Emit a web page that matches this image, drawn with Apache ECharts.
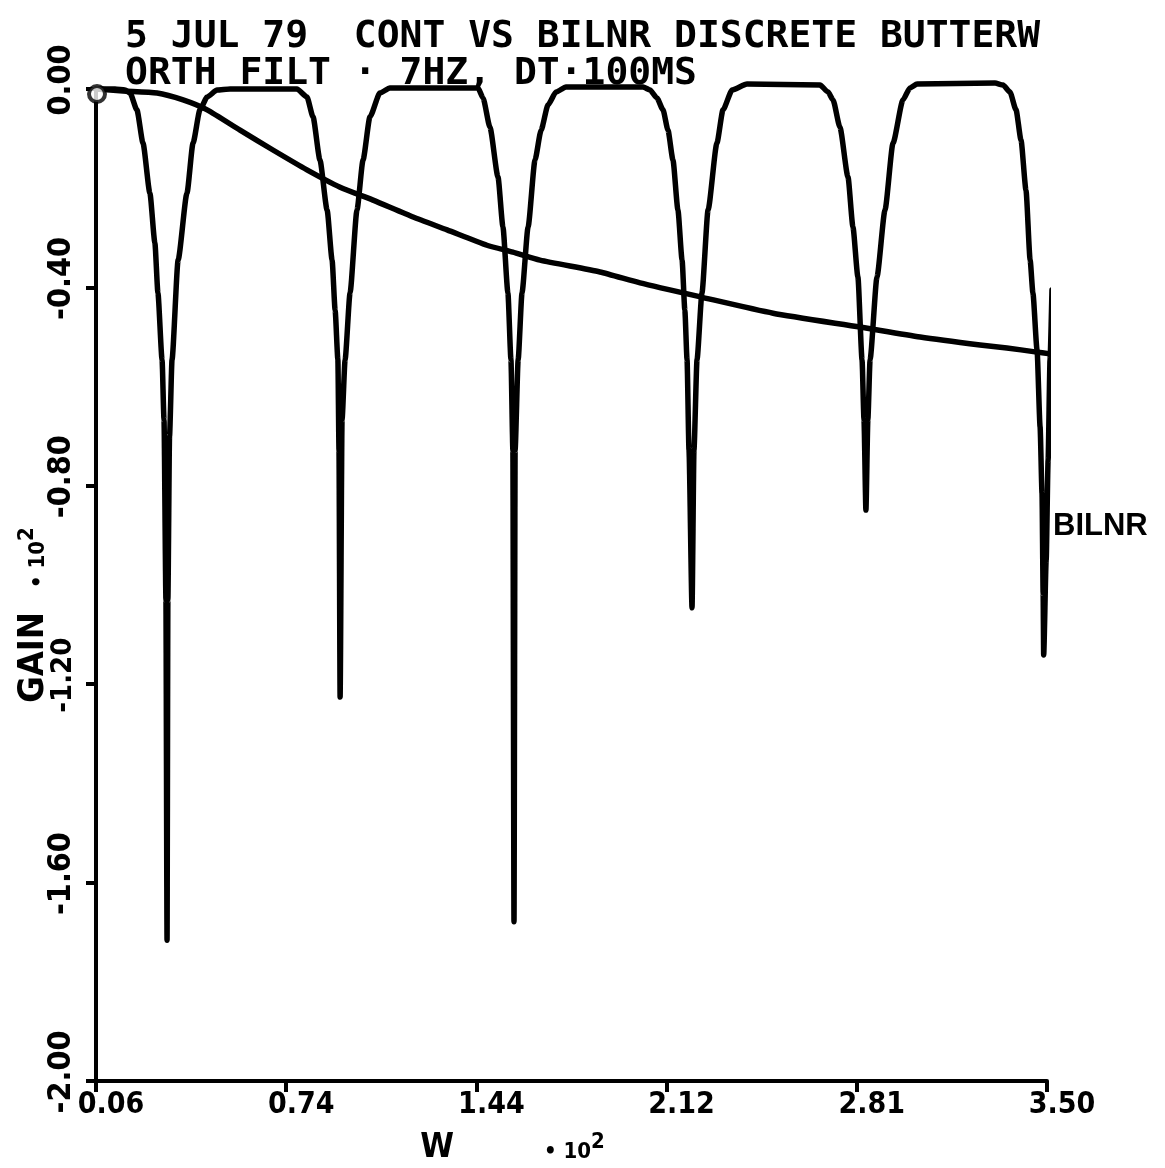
<!DOCTYPE html>
<html>
<head>
<meta charset="utf-8">
<title>CONT VS BILNR DISCRETE BUTTERWORTH FILT</title>
<script src="https://cdn.jsdelivr.net/npm/echarts@6/dist/echarts.min.js"></script>
<style>
  html, body { margin: 0; padding: 0; background: #ffffff; }
  #chart { width: 1165px; height: 1168px; }
</style>
</head>
<body>
<div id="chart"></div>
<script>
// Frequency W (x 10^2 rad/s) and gain (x 10^2) of the bilinear discrete filter
const bilnrW = [
  0.060, 0.129, 0.165, 0.183, 0.208, 0.230, 0.255, 0.273, 0.284, 0.299, 0.306, 0.313, 0.317, 0.320, 0.326,
  0.335, 0.357, 0.389, 0.411, 0.436, 0.462, 0.498, 0.545,
  0.787, 0.823, 0.845, 0.870, 0.896, 0.914, 0.925, 0.935, 0.939, 0.943, 0.950, 0.961, 0.979, 1.004, 1.026,
  1.051, 1.087, 1.123,
  1.442, 1.460, 1.485, 1.514, 1.532, 1.550, 1.561, 1.568, 1.572, 1.576, 1.587, 1.601, 1.623, 1.648, 1.670,
  1.695, 1.724, 1.760,
  2.039, 2.064, 2.089, 2.111, 2.129, 2.147, 2.165, 2.180, 2.190, 2.198, 2.205, 2.216, 2.223, 2.234, 2.252,
  2.274, 2.306, 2.328, 2.361, 2.415,
  2.679, 2.708, 2.726, 2.751, 2.780, 2.798, 2.816, 2.831, 2.838, 2.845, 2.852, 2.860, 2.885, 2.914, 2.943,
  2.979, 3.004, 3.030,
  3.312, 3.341, 3.366, 3.388, 3.406, 3.424, 3.439, 3.449, 3.464, 3.475, 3.482, 3.486, 3.488, 3.497, 3.504,
  3.511, 3.518
];
const bilnrG = [
  0.000, 0.000, -0.002, -0.008, -0.042, -0.109, -0.210, -0.310, -0.411, -0.546, -0.667, -1.030, -1.716, -1.030, -0.700,
  -0.546, -0.345, -0.210, -0.109, -0.042, -0.016, -0.002, 0.000,
  0.000, -0.016, -0.056, -0.143, -0.244, -0.345, -0.446, -0.546, -0.728, -1.226, -0.667, -0.546, -0.411, -0.244, -0.143,
  -0.056, -0.008, 0.002,
  0.002, -0.018, -0.077, -0.177, -0.278, -0.411, -0.546, -0.728, -1.679, -0.728, -0.546, -0.411, -0.278, -0.143, -0.083,
  -0.032, -0.006, 0.004,
  0.004, -0.002, -0.018, -0.042, -0.083, -0.143, -0.244, -0.345, -0.446, -0.546, -0.728, -1.046, -0.728, -0.546, -0.411,
  -0.244, -0.109, -0.042, -0.002, 0.010,
  0.008, -0.006, -0.022, -0.077, -0.177, -0.278, -0.379, -0.546, -0.667, -0.849, -0.667, -0.546, -0.379, -0.244, -0.109,
  -0.022, 0.002, 0.010,
  0.012, 0.008, -0.006, -0.042, -0.103, -0.204, -0.345, -0.411, -0.526, -0.681, -0.815, -1.016, -1.141, -0.950, -0.748,
  -0.546, -0.405
];

// Continuous Butterworth response
const contW = [
  0.060, 0.158, 0.281, 0.375, 0.462, 0.581, 0.700, 0.823, 0.943, 1.062, 1.207, 1.330, 1.474, 1.568, 1.666,
  1.883, 2.028, 2.245, 2.509, 2.824, 3.041, 3.258, 3.355, 3.457, 3.511
];
const contG = [
  0.000, -0.004, -0.008, -0.022, -0.042, -0.083, -0.123, -0.163, -0.198, -0.224, -0.258, -0.284, -0.315, -0.329, -0.345,
  -0.369, -0.391, -0.419, -0.452, -0.480, -0.500, -0.516, -0.522, -0.530, -0.534
];

// Axis ticks and their printed labels
const xTickValues = [0.06, 0.748, 1.436, 2.124, 2.812, 3.50];
const xTickLabels = ['0.06', '0.74', '1.44', '2.12', '2.81', '3.50'];
const yTickLabels = ['-2.00', '-1.60', '-1.20', '-0.80', '-0.40', '0.00'];

const titleLines = ['5 JUL 79  CONT VS BILNR DISCRETE BUTTERW', 'ORTH FILT \u00b7 7HZ, DT\u00b7100MS'];
const seriesLabel = 'BILNR';

const INK = '#000000';
const plotFont = "'DejaVu Sans Condensed', 'DejaVu Sans', sans-serif";
const monoFont = "'DejaVu Sans Mono', 'Liberation Mono', monospace";

const zip = (a, b) => a.map((v, i) => [v, b[i]]);

const chart = echarts.init(document.getElementById('chart'), null, { renderer: 'canvas' });

chart.setOption({
  backgroundColor: '#ffffff',
  animation: false,
  title: {
    text: titleLines.join('\n'),
    left: 120,
    top: 14,
    textStyle: {
      fontFamily: monoFont,
      fontWeight: 'bold',
      fontSize: 38,
      lineHeight: 37,
      color: INK
    }
  },
  grid: { left: 96, right: 118, top: 89, bottom: 87, containLabel: false, outerBoundsMode: 'none' },
  xAxis: {
    type: 'value',
    min: 0.06,
    max: 3.5,
    name: '{w|W}{e|\u2022 10}{s|2}',
    nameLocation: 'middle',
    nameGap: 50,
    nameMoveOverlap: false,
    nameTextStyle: {
      padding: [0, 118, 0, 0],
      rich: {
        w: { fontFamily: plotFont, fontWeight: 'bold', fontSize: 34, color: INK, padding: [0, 90, 0, 0] },
        e: { fontFamily: plotFont, fontWeight: 'bold', fontSize: 22, color: INK, padding: [8, 0, 0, 0] },
        s: { fontFamily: plotFont, fontWeight: 'bold', fontSize: 22, color: INK, verticalAlign: 'top', padding: [0, 0, 10, 0] }
      }
    },
    axisLine: { show: true, onZero: false, lineStyle: { color: INK, width: 4 } },
    axisTick: { show: true, inside: false, length: 11, customValues: xTickValues, lineStyle: { color: INK, width: 4 } },
    axisLabel: {
      customValues: xTickValues,
      margin: 9,
      padding: [0, 0, 0, 30],
      fontFamily: plotFont,
      fontWeight: 'bold',
      fontSize: 30,
      color: INK,
      formatter: (v) => {
        const i = xTickValues.findIndex(t => Math.abs(t - v) < 1e-6);
        return i >= 0 ? xTickLabels[i] : '';
      }
    },
    splitLine: { show: false }
  },
  yAxis: {
    type: 'value',
    min: -2,
    max: 0,
    interval: 0.4,
    name: '{g|GAIN}{e|\u2022 10}{s|2}',
    nameLocation: 'middle',
    nameRotate: 90,
    nameGap: 44,
    nameMoveOverlap: false,
    nameTextStyle: {
      padding: [0, 60, 0, 0],
      rich: {
        g: { fontFamily: plotFont, fontWeight: 'bold', fontSize: 36, color: INK, padding: [0, 24, 0, 0] },
        e: { fontFamily: plotFont, fontWeight: 'bold', fontSize: 22, color: INK, padding: [8, 0, 0, 0] },
        s: { fontFamily: plotFont, fontWeight: 'bold', fontSize: 22, color: INK, verticalAlign: 'top', padding: [0, 0, 10, 0] }
      }
    },
    axisLine: { show: true, onZero: false, lineStyle: { color: INK, width: 4 } },
    axisTick: { show: true, inside: false, length: 10, lineStyle: { color: INK, width: 4 } },
    axisLabel: {
      rotate: 90,
      margin: 18,
      padding: [0, 0, 0, 18],
      fontFamily: plotFont,
      fontWeight: 'bold',
      fontSize: 32,
      color: INK,
      rich: {
        // the label squeezed in beside the axis name is printed smaller
        sm: { fontFamily: plotFont, fontWeight: 'bold', fontSize: 29, color: INK }
      },
      formatter: (v) => {
        const s = yTickLabels[Math.round((v + 2) / 0.4)];
        return s === '-1.20' ? '{sm|' + s + '}' : s;
      }
    },
    splitLine: { show: false }
  },
  graphic: [
    {
      type: 'text',
      left: 1053,
      top: 511,
      style: {
        text: seriesLabel,
        fontFamily: "'Liberation Sans', Arial, sans-serif",
        fontWeight: 'bold',
        fontSize: 31,
        fill: INK
      }
    }
  ],
  series: [
    {
      name: 'CONT',
      type: 'line',
      data: zip(contW, contG),
      showSymbol: false,
      clip: false,
      smooth: 0.2,
      lineStyle: { color: INK, width: 5.5, join: 'round', cap: 'round' }
    },
    {
      name: 'BILNR',
      type: 'line',
      data: zip(bilnrW, bilnrG),
      showSymbol: false,
      clip: false,
      smooth: 0.2,
      smoothMonotone: 'x',
      lineStyle: { color: INK, width: 5.5, join: 'round', cap: 'round' }
    },
    {
      name: 'start',
      type: 'scatter',
      data: [[bilnrW[0], bilnrG[0]]],
      symbol: 'circle',
      symbolSize: 16,
      symbolOffset: [1, 5],
      itemStyle: { color: '#ffffff', borderColor: INK, borderWidth: 4 },
      z: 5
    }
  ]
});
</script>
</body>
</html>
